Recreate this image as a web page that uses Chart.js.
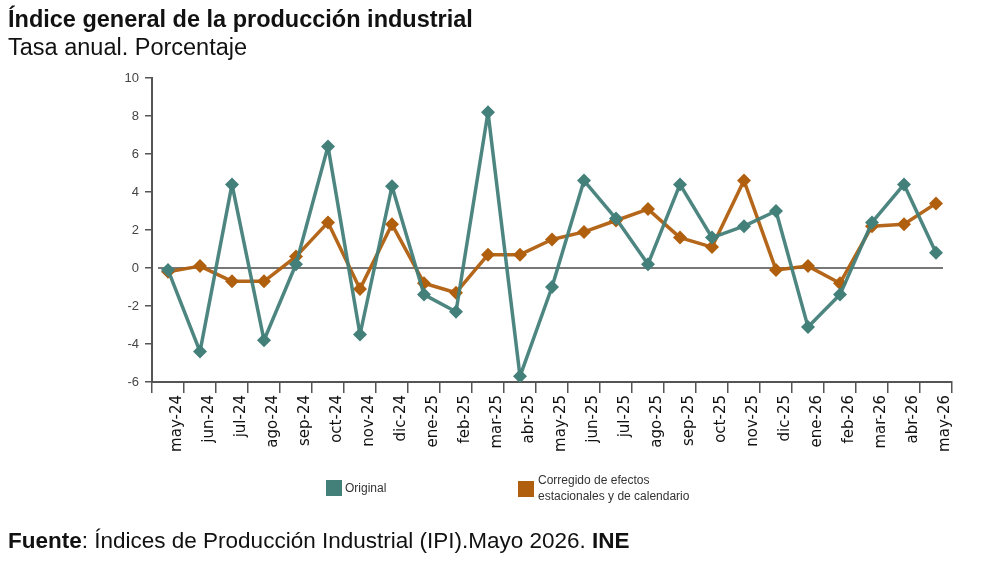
<!DOCTYPE html>
<html>
<head>
<meta charset="utf-8">
<script src="https://cdn.jsdelivr.net/npm/chart.js@4.4.0/dist/chart.umd.min.js"></script>
<style>
  body { margin: 0; background: #fff; font-family: "Liberation Sans", Arial, sans-serif; }
  #wrap { position: relative; width: 990px; height: 563px; overflow: hidden; }
  #c { position: absolute; left: 0; top: 0; }
  .txt { position: absolute; left: 8px; font-size: 23.5px; color: #111; white-space: nowrap; }
  .legend-box { position: absolute; width: 16px; height: 16px; }
  .legend-txt { position: absolute; font-size: 12px; color: #333; line-height: 16px; white-space: nowrap; }
</style>
</head>
<body>
<div id="wrap">
  <canvas id="c" width="990" height="563"></canvas>
  <div class="txt" style="top:6px;font-weight:bold;">Índice general de la producción industrial</div>
  <div class="txt" style="top:34px;">Tasa anual. Porcentaje</div>
  <div class="legend-box" style="left:326px;top:480px;background:#43807a;"></div>
  <div class="legend-txt" style="left:345px;top:480px;">Original</div>
  <div class="legend-box" style="left:518px;top:481px;background:#b05f0e;"></div>
  <div class="legend-txt" style="left:538px;top:472px;">Corregido de efectos<br>estacionales y de calendario</div>
  <div class="txt" style="top:528px;font-size:22.5px;"><b>Fuente</b>: Índices de Producción Industrial (IPI).Mayo 2026. <b>INE</b></div>
</div>
<script>
// Months on the x axis
const months = ['may-24', 'jun-24', 'jul-24', 'ago-24', 'sep-24', 'oct-24', 'nov-24', 'dic-24',
    'ene-25', 'feb-25', 'mar-25', 'abr-25', 'may-25', 'jun-25', 'jul-25', 'ago-25', 'sep-25',
    'oct-25', 'nov-25', 'dic-25', 'ene-26', 'feb-26', 'mar-26', 'abr-26', 'may-26'];

// Annual rate, original series
const original = [-0.1, -4.4, 4.4, -3.8, 0.2, 6.4, -3.5, 4.3, -1.4, -2.3, 8.2, -5.7, -1.0,
    4.6, 2.6, 0.2, 4.4, 1.6, 2.2, 3.0, -3.1, -1.4, 2.4, 4.4, 0.8];

// Annual rate, seasonally and calendar adjusted
const corregido = [-0.2, 0.1, -0.7, -0.7, 0.6, 2.4, -1.1, 2.3, -0.8, -1.3, 0.7, 0.7, 1.5,
    1.9, 2.5, 3.1, 1.6, 1.1, 4.6, -0.1, 0.1, -0.8, 2.2, 2.3, 3.4];

const yTicks = { min: -6, max: 10, step: 2 };

const tealColor = '#43807a';
const orangeColor = '#b05f0e';

// grey reference line at zero, drawn under the series
const zeroLine = {
    id: 'zeroLine',
    beforeDatasetsDraw(chart) {
        const { ctx, chartArea, scales } = chart;
        const y = scales.y.getPixelForValue(0);
        ctx.save();
        ctx.strokeStyle = '#777';
        ctx.lineWidth = 2;
        ctx.beginPath();
        ctx.moveTo(chartArea.left + 6, y);
        ctx.lineTo(chartArea.right - 9, y);
        ctx.stroke();
        ctx.restore();
    }
};

new Chart(document.getElementById('c'), {
    type: 'line',
    data: {
        labels: months,
        datasets: [
            {
                label: 'Original',
                data: original,
                borderColor: 'rgba(67,128,122,0.95)',
                backgroundColor: tealColor,
                borderWidth: 3.5,
                borderJoinStyle: 'round',
                pointStyle: 'rectRot',
                pointRadius: 7,
                pointBorderWidth: 0,
                tension: 0
            },
            {
                label: 'Corregido de efectos estacionales y de calendario',
                data: corregido,
                borderColor: 'rgba(176,95,14,0.95)',
                backgroundColor: orangeColor,
                borderWidth: 3.5,
                borderJoinStyle: 'round',
                pointStyle: 'rectRot',
                pointRadius: 7,
                pointBorderWidth: 0,
                tension: 0
            }
        ]
    },
    options: {
        responsive: false,
        animation: false,
        layout: { padding: { left: 112, right: 38, top: 78, bottom: 81 } },
        plugins: {
            legend: { display: false },
            tooltip: { enabled: false }
        },
        scales: {
            x: {
                offset: true,
                afterFit: scale => { scale.height = 100; },
                border: { color: '#555', width: 2 },
                grid: { offset: true, drawOnChartArea: false, tickLength: 11, color: '#555', lineWidth: 1.5 },
                ticks: {
                    autoSkip: false,
                    minRotation: 90,
                    maxRotation: 90,
                    labelOffset: 9,
                    padding: 2,
                    color: '#111',
                    font: { family: 'DejaVu Sans', size: 15 }
                }
            },
            y: {
                min: yTicks.min,
                max: yTicks.max,
                afterFit: scale => { scale.width = 40; },
                border: { color: '#555', width: 2 },
                grid: { drawOnChartArea: false, tickLength: 7, color: '#555', lineWidth: 1.5 },
                ticks: {
                    stepSize: yTicks.step,
                    padding: 6,
                    color: '#444',
                    font: { family: 'Liberation Sans', size: 13 }
                }
            }
        }
    },
    plugins: [zeroLine]
});
</script>
</body>
</html>
